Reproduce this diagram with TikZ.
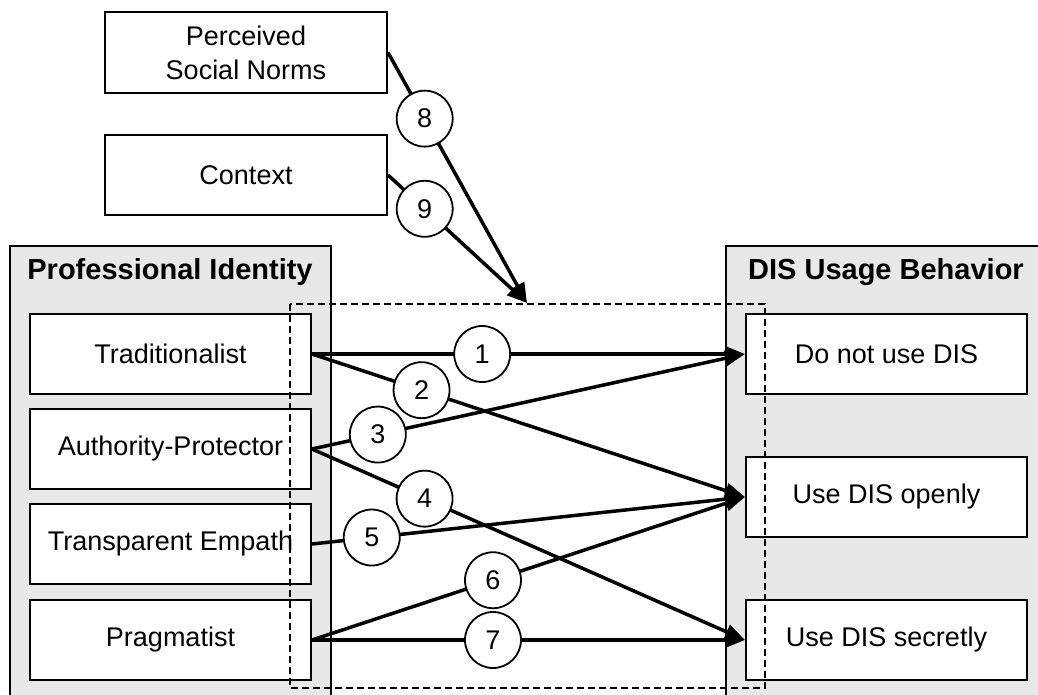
\documentclass[tikz,border=0pt]{standalone}
\usepackage{fontspec}
\setmainfont{Liberation Sans}
\usetikzlibrary{arrows.meta}
\definecolor{panelgray}{RGB}{232,232,232}
\tikzset{
  panel/.style={draw=black, line width=1.5pt, fill=panelgray},
  box/.style={draw=black, line width=2pt, fill=white, minimum width=281pt, minimum height=80pt, inner sep=0pt, font=\fontsize{27}{34}\selectfont, align=center},
  title/.style={font=\fontsize{29}{32}\selectfont\bfseries},
  conn/.style={line width=3.5pt, -{Triangle[length=20pt,width=15pt]}},
  num/.style={circle, draw=black, line width=1.8pt, fill=white, minimum size=56pt, inner sep=0pt, font=\fontsize{27}{30}\selectfont},
  dashbox/.style={draw=black, line width=1.5pt, dash pattern=on 7pt off 4pt}
}
\begin{document}
\begin{tikzpicture}[x=1pt,y=-1pt]
\clip (0,0) rectangle (1038,695);
\fill[white] (0,0) rectangle (1038,695);
% panels
\draw[panel] (10,246) rectangle (331,720);
\draw[panel] (726,246) rectangle (1060,720);
\node[title] (tpi) at (170,272) {Professional Identity};
\node[title] (tdis) at (886,272) {DIS Usage Behavior};
% top boxes
\node[box, minimum width=282pt, minimum height=81pt] (psn) at (246,52.5) {Perceived\\Social Norms};
\node[box, minimum width=282pt] (ctx) at (246,175) {Context};
% left boxes
\node[box] (trad) at (170.5,354) {Traditionalist};
\node[box] (auth) at (170.5,449) {Authority-Protector};
\node[box] (trans) at (170.5,544) {Transparent Empath};
\node[box] (prag) at (170.5,640) {Pragmatist};
% right boxes
\node[box] (dnu) at (886.5,354) {Do not use DIS};
\node[box] (open) at (886.5,497) {Use DIS openly};
\node[box] (secret) at (886.5,640) {Use DIS secretly};
% dashed box
\draw[dashbox] (290,304) rectangle (765,688);
\coordinate (tip) at (527,303);
% connectors
\draw[conn] (psn.east) -- node[num, pos=0.264] {8} (tip);
\draw[conn] (ctx.east) -- node[num, pos=0.264] {9} (tip);
\draw[conn] (trad.east) -- node[num, pos=0.393] {1} (dnu.west);
\draw[conn] (trad.east) -- node[num, pos=0.253] {2} (open.west);
\draw[conn] (auth.east) -- node[num, pos=0.152] {3} (dnu.west);
\draw[conn] (auth.east) -- node[num, pos=0.26] {4} (secret.west);
\draw[conn] (trans.east) -- node[num, pos=0.138] {5} (open.west);
\draw[conn] (prag.east) -- node[num, pos=0.418] {6} (open.west);
\draw[conn] (prag.east) -- node[num, pos=0.418] {7} (secret.west);
\end{tikzpicture}
\end{document}
